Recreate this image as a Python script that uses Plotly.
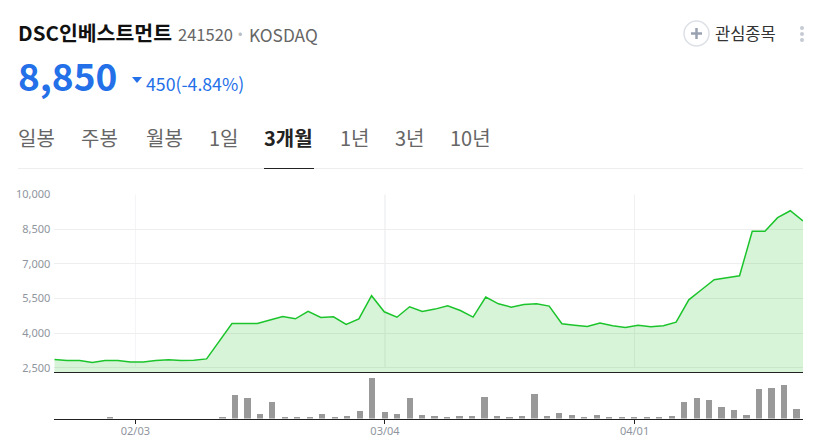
import plotly.graph_objects as go
import numpy as np

W, H = 827, 441
KR = "Noto Sans CJK KR"

# ---------- data ----------
close = [2860, 2820, 2820, 2730, 2820, 2820, 2760, 2760, 2820, 2850, 2820, 2830, 2890, 3655,
         4420, 4420, 4420, 4565, 4720, 4620, 4940, 4680, 4710, 4375, 4620, 5620, 4925, 4690,
         5140, 4940, 5040, 5185, 4980, 4695, 5560, 5270, 5125, 5240, 5270, 5170, 4405, 4345,
         4290, 4435, 4320, 4245, 4345, 4275, 4320, 4475, 5440, 5875, 6310, 6395, 6480, 8400,
         8400, 8990, 9290, 8850]
volume = [0, 0, 0, 0, 3, 0, 0, 0, 0, 0, 0, 0, 0, 5, 70, 63, 15, 50, 4, 4, 4, 15, 6, 9, 24,
          123, 21, 14, 63, 12, 9, 6, 8, 8, 65, 9, 5, 9, 75, 8, 18, 12, 4, 12, 4, 4, 4, 2, 2,
          9, 50, 63, 57, 36, 27, 12, 90, 93, 102, 30]
price_ticks = [2500, 4000, 5500, 7000, 8500, 10000]
date_tick_index = [6, 26, 46]
date_tick_labels = ["02/03", "03/04", "04/01"]
date_line_colors = ["#f4f5f7", "#e9eaec", "#eef0f2"]
tabs = ["일봉", "주봉", "월봉", "1일", "3개월", "1년", "3년", "10년"]
tab_x = [18, 81, 146, 209, 264, 340, 395, 450]
name = "DSC인베스트먼트"
code = "241520"
market = "KOSDAQ"
price = "8,850"
change = "450(-4.84%)"
watch = "관심종목"

BLUE = "#2470e8"
n = len(close)
band = np.arange(n)
line_x = band * n / (n - 1) - 0.5   # line uses a point scale across the same width as the bars' band scale

def px(v): return v / W
def py(v): return 1 - v / H

fig = go.Figure()
fig.add_trace(go.Scatter(x=line_x, y=close, mode="lines", xaxis="x", yaxis="y",
                         line=dict(color="#1cc42c", width=1.5), fill="tozeroy",
                         fillcolor="rgba(40,195,40,0.18)", hoverinfo="skip", showlegend=False))
fig.add_trace(go.Bar(x=band, y=volume, xaxis="x2", yaxis="y2", width=0.5, marker=dict(color="#999999", line_width=0),
                     hoverinfo="skip", showlegend=False))

shapes = []
for i, c in zip(date_tick_index, date_line_colors):
    shapes.append(dict(type="line", xref="x", yref="y", x0=i, x1=i, y0=price_ticks[0], y1=price_ticks[-1],
                       line=dict(color=c, width=1), layer="below"))
# header rules and icons
shapes += [
    dict(type="line", xref="paper", yref="paper", x0=px(18), x1=px(803), y0=py(168.5), y1=py(168.5),
         line=dict(color="#eeeeee", width=1)),
    dict(type="line", xref="paper", yref="paper", x0=px(264), x1=px(314), y0=py(168.5), y1=py(168.5),
         line=dict(color="#222222", width=1)),
    dict(type="circle", xref="paper", yref="paper", x0=px(684), x1=px(709), y0=py(46), y1=py(21),
         line=dict(color="#dde0e6", width=1.5)),
    dict(type="line", xref="paper", yref="paper", x0=px(691), x1=px(702), y0=py(33.5), y1=py(33.5),
         line=dict(color="#98a1b0", width=2.5)),
    dict(type="line", xref="paper", yref="paper", x0=px(696.5), x1=px(696.5), y0=py(28), y1=py(39),
         line=dict(color="#98a1b0", width=2.5)),
]
for yy in (28, 34, 40):
    shapes.append(dict(type="circle", xref="paper", yref="paper", x0=px(800), x1=px(804), y0=py(yy + 2), y1=py(yy - 2),
                       fillcolor="#c6cad2", line_width=0))
# price-down triangle
shapes.append(dict(type="path", xref="paper", yref="paper",
                   path=f"M {px(132)} {py(77)} L {px(142)} {py(77)} L {px(137)} {py(83)} Z",
                   fillcolor=BLUE, line_width=0))

def text(x, y, s, size, color, anchor="left"):
    return dict(x=px(x), y=py(y), xref="paper", yref="paper", text=s, showarrow=False, xanchor=anchor, yanchor="middle",
                xshift=0, yshift=0, font=dict(family=KR, size=size, color=color), borderpad=0, borderwidth=0)

ann = [
    text(18, 32, f"<b>{name}</b>", 20.5, "#111111"),
    text(178, 34, code, 16.5, "#666666"),
    text(238, 33, "•", 13, "#bbbbbb"),
    text(249, 34, market, 17.3, "#666666"),
    text(18, 75, f"<b>{price}</b>", 37, BLUE),
    text(146, 83, change, 17.7, BLUE),
    text(715, 33, watch, 16.5, "#333333"),
]
for t, x in zip(tabs, tab_x):
    if t == "3개월":
        ann.append(text(x, 137, f"<b>{t}</b>", 20, "#222222"))
    else:
        ann.append(text(x, 137, t, 20, "#666666"))

tick_font = dict(family="Noto Sans", size=11, color="#8f959e")
fig.update_layout(
    width=W, height=H, autosize=False, margin=dict(l=0, r=0, t=0, b=0, autoexpand=False),
    paper_bgcolor="white", plot_bgcolor="white", shapes=shapes, annotations=ann, bargap=0,
    xaxis=dict(domain=[px(54.3), px(803)], range=[-0.5, n - 0.5], anchor="y", showgrid=False, showline=True, automargin=False,
               linecolor="#222222", linewidth=1, showticklabels=False, ticks="", zeroline=False),
    yaxis=dict(domain=[py(372), py(194.3)], range=[2323, 10000], anchor="x", tickvals=price_ticks, automargin=False,
               tickformat=",", gridcolor="#eeeeee", gridwidth=1, zeroline=False, showline=False, ticks="",
               tickfont=tick_font, ticklabelstandoff=3),
    xaxis2=dict(domain=[px(54.3), px(803)], range=[-0.5, n - 0.5], anchor="y2", showgrid=False, showline=True, automargin=False,
                linecolor="#222222", linewidth=1, tickvals=date_tick_index, ticktext=date_tick_labels,
                ticks="outside", ticklen=4, tickcolor="#222222", tickwidth=1, tickfont=tick_font, zeroline=False,
                ticklabelstandoff=-2),
    yaxis2=dict(domain=[py(418.5), py(378)], range=[0, 123], anchor="x2", showgrid=False, showticklabels=False, automargin=False,
                zeroline=False, showline=False, ticks=""),
)
fig.write_html("out.html", config={"displayModeBar": False},
               post_script="document.body.style.margin='0';document.body.style.overflow='hidden';")
